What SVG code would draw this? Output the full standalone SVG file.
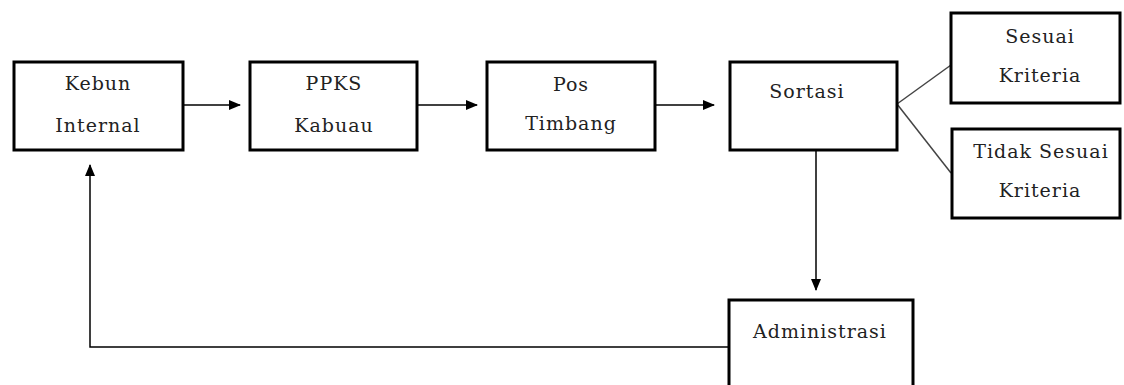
<svg xmlns="http://www.w3.org/2000/svg" width="1124" height="385" viewBox="0 0 1124 385">
<style>
.box{fill:#fff;stroke:#000;stroke-width:3}
.t{font-family:"DejaVu Serif","Liberation Serif",serif;font-size:19px;fill:#222;text-anchor:middle;letter-spacing:1px}
.c{fill:none;stroke:#000;stroke-width:1.5}
.d{fill:none;stroke:#444;stroke-width:1.5}
</style>
<defs>
<marker id="ah" markerWidth="12" markerHeight="10" refX="11" refY="5" orient="auto" markerUnits="userSpaceOnUse">
<path d="M0,0 L12,5 L0,10 Z" fill="#000"/>
</marker>
</defs>
<rect width="1124" height="385" fill="#fff"/>
<g id="connectors">
<line class="c" x1="183" y1="105" x2="240" y2="105" marker-end="url(#ah)"/>
<line class="c" x1="417" y1="105" x2="477" y2="105" marker-end="url(#ah)"/>
<line class="c" x1="655" y1="105" x2="714" y2="105" marker-end="url(#ah)"/>
<line class="d" x1="897" y1="104" x2="951" y2="65"/>
<line class="d" x1="897" y1="104" x2="951" y2="173"/>
<line class="c" x1="816" y1="150" x2="816" y2="290" marker-end="url(#ah)"/>
<polyline class="c" points="729,347 90,347 90,165" marker-end="url(#ah)"/>
</g>
<g id="kebun">
<rect class="box" x="14" y="62" width="169" height="88"/>
<text class="t" x="98" y="90">Kebun</text>
<text class="t" x="98" y="132">Internal</text>
</g>
<g id="ppks">
<rect class="box" x="250" y="62" width="167" height="88"/>
<text class="t" x="334" y="90">PPKS</text>
<text class="t" x="334" y="132">Kabuau</text>
</g>
<g id="pos">
<rect class="box" x="487" y="62" width="168" height="88"/>
<text class="t" x="571" y="91">Pos</text>
<text class="t" x="571" y="130">Timbang</text>
</g>
<g id="sortasi">
<rect class="box" x="730" y="62" width="167" height="88"/>
<text class="t" x="807" y="98">Sortasi</text>
</g>
<g id="sesuai">
<rect class="box" x="951" y="13" width="169" height="90"/>
<text class="t" x="1040" y="43">Sesuai</text>
<text class="t" x="1040" y="82">Kriteria</text>
</g>
<g id="tidak">
<rect class="box" x="952" y="129" width="168" height="89"/>
<text class="t" x="1041" y="158">Tidak Sesuai</text>
<text class="t" x="1040" y="197">Kriteria</text>
</g>
<g id="administrasi">
<rect class="box" x="729" y="300" width="184" height="100"/>
<text class="t" x="820" y="338">Administrasi</text>
</g>
</svg>
